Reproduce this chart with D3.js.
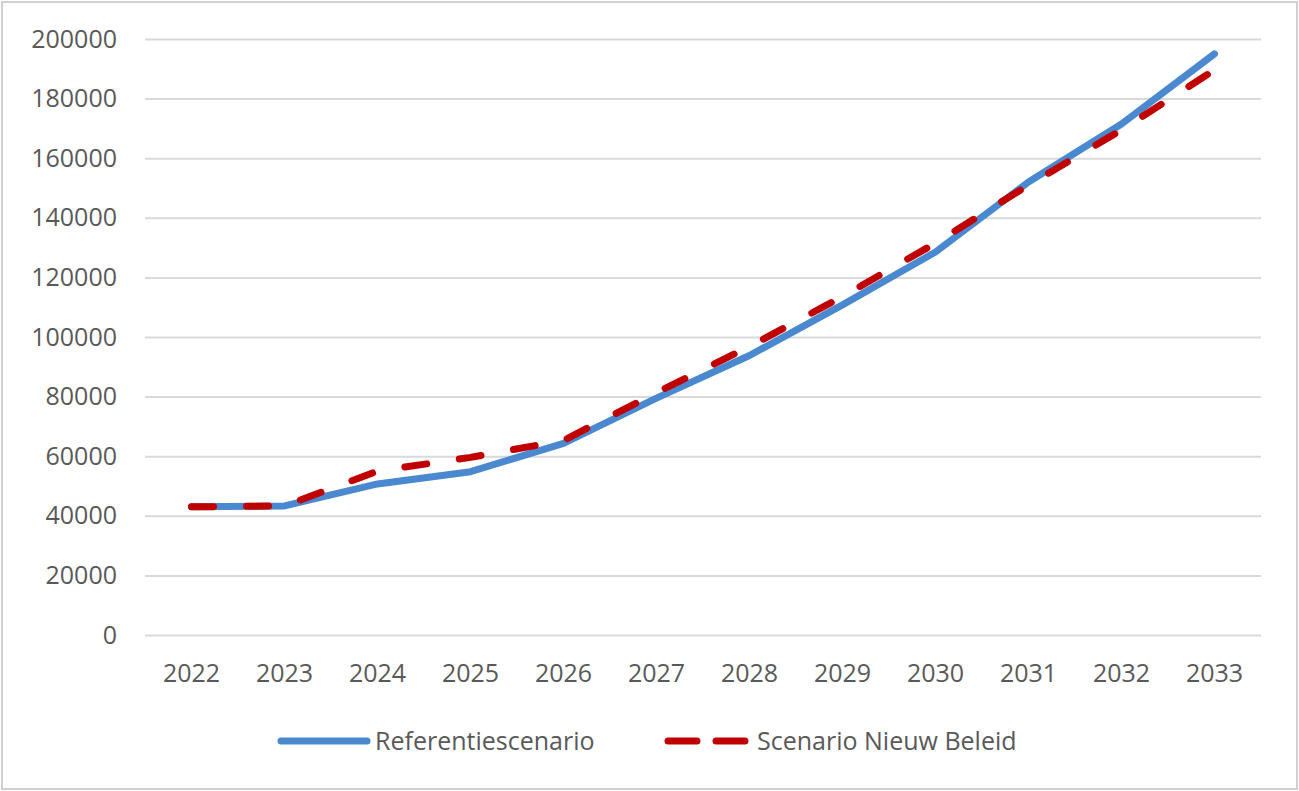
<!DOCTYPE html>
<html>
<head>
<meta charset="utf-8">
<script src="https://cdn.jsdelivr.net/npm/d3@7"></script>
<style>
  body { margin: 0; background: #fff; }
  svg text { font-family: "Open Sans", "Noto Sans", sans-serif; fill: #595959; }
</style>
</head>
<body>
<div id="area"></div>
<script>
var years = ['2022', '2023', '2024', '2025', '2026', '2027', '2028', '2029', '2030', '2031', '2032', '2033'];
var referentie = [43000, 43300, 50700, 54800, 64300, 79500, 93800, 110800, 128500, 152000, 171500, 195000];
var nieuwBeleid = [43000, 43300, 55000, 59600, 65300, 81300, 96800, 113600, 131500, 151000, 169500, 189600];
var yTicks = [0, 20000, 40000, 60000, 80000, 100000, 120000, 140000, 160000, 180000, 200000];
var seriesNames = ['Referentiescenario', 'Scenario Nieuw Beleid'];

var width = 1299,
    height = 791,
    blue = '#4a89cf',
    red = '#c00000',
    grid_color = '#d9d9d9';

var margin = {left: 145, right: 38, top: 39, bottom: 156};

var svg = d3.select('#area').append('svg')
    .attr('width', width)
    .attr('height', height);

// outer frame
svg.append('rect')
    .attr('x', 2).attr('y', 2)
    .attr('width', width - 4).attr('height', height - 4)
    .attr('fill', '#fff')
    .attr('stroke', '#d0d0d0')
    .attr('stroke-width', 2);

var x = d3.scaleBand()
    .domain(years)
    .range([margin.left, width - margin.right]);

var y = d3.scaleLinear()
    .domain([0, 200000])
    .range([height - margin.bottom, margin.top]);

// gridlines + y labels
var yAxis = d3.axisLeft(y)
    .tickValues(yTicks)
    .tickSize(-(width - margin.left - margin.right))
    .tickPadding(28)
    .tickFormat(d3.format('d'));

var yg = svg.append('g')
    .attr('transform', 'translate(' + margin.left + ',0)')
    .call(yAxis);
yg.select('.domain').remove();
yg.selectAll('.tick line').attr('stroke', grid_color).attr('stroke-width', 2);
yg.selectAll('.tick text').attr('font-size', '25px').attr('fill', '#595959');

// x labels
var xAxis = d3.axisBottom(x).tickSize(0).tickPadding(29);
var xg = svg.append('g')
    .attr('transform', 'translate(0,' + (height - margin.bottom) + ')')
    .call(xAxis);
xg.select('.domain').remove();
xg.selectAll('.tick text').attr('font-size', '25px').attr('fill', '#595959');

var line = d3.line()
    .x(function(d, i) { return x(years[i]) + x.bandwidth() / 2; })
    .y(function(d) { return y(d); });

svg.append('path')
    .datum(referentie)
    .attr('d', line)
    .attr('fill', 'none')
    .attr('stroke', blue)
    .attr('stroke-width', 7)
    .attr('stroke-linejoin', 'round')
    .attr('stroke-linecap', 'round');

svg.append('path')
    .datum(nieuwBeleid)
    .attr('d', line)
    .attr('fill', 'none')
    .attr('stroke', red)
    .attr('stroke-width', 7)
    .attr('stroke-linejoin', 'round')
    .attr('stroke-linecap', 'round')
    .attr('stroke-dasharray', '22 33');

// legend
var legendY = 741;
var lg = svg.append('g');
lg.append('line')
    .attr('x1', 281).attr('x2', 367)
    .attr('y1', legendY).attr('y2', legendY)
    .attr('stroke', blue).attr('stroke-width', 7)
    .attr('stroke-linecap', 'round');
lg.append('text')
    .attr('x', 375).attr('y', legendY)
    .attr('dy', '0.35em')
    .attr('font-size', '25px')
    .text(seriesNames[0]);

lg.append('line')
    .attr('x1', 668).attr('x2', 748)
    .attr('y1', legendY).attr('y2', legendY)
    .attr('stroke', red).attr('stroke-width', 7)
    .attr('stroke-linecap', 'round')
    .attr('stroke-dasharray', '29 19');
lg.append('text')
    .attr('x', 757).attr('y', legendY)
    .attr('dy', '0.35em')
    .attr('font-size', '25px')
    .text(seriesNames[1]);
</script>
</body>
</html>
